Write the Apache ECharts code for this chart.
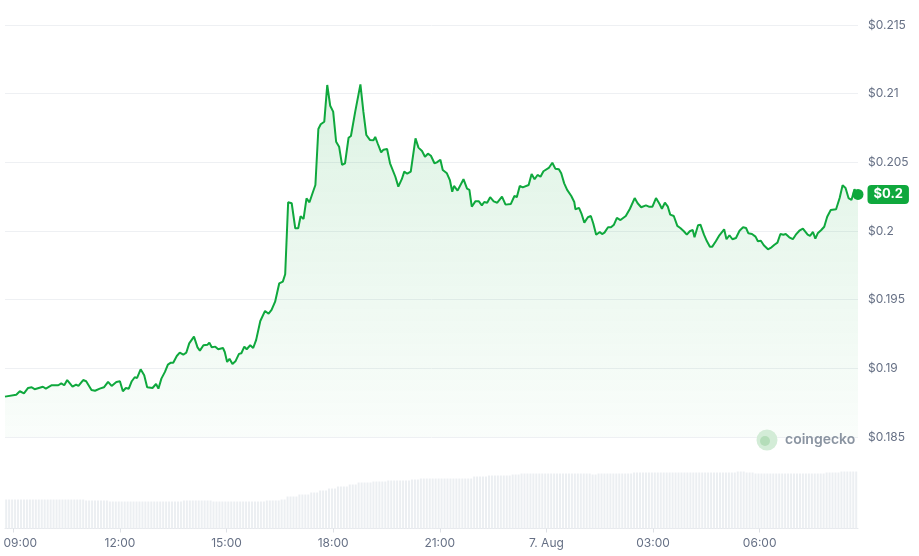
<!DOCTYPE html>
<html><head><meta charset="utf-8">
<script src="https://cdn.jsdelivr.net/npm/echarts@6/dist/echarts.min.js"></script>
<style>html,body{margin:0;padding:0;background:#fff}#c{width:919px;height:556px}</style>
</head><body><div id="c"></div>
<script>
// ---- data ----
const priceTimes = [
'08:46','09:05','09:11','09:18','09:25','09:31','09:36','09:50','09:55','10:05','10:16','10:21','10:26','10:31','10:40','10:46','10:50','10:58',
'11:03','11:12','11:18','11:26','11:33','11:40','11:46','11:54','12:00','12:05','12:10','12:15','12:20','12:25','12:29','12:35','12:41','12:46','12:55',
'13:01','13:05','13:10','13:16','13:21','13:26','13:30','13:36','13:41','13:47','13:52','13:57','14:05','14:11','14:15','14:21','14:28','14:31','14:35',
'14:41','14:46','14:54','14:57','15:01','15:05','15:10','15:15','15:21','15:25','15:30','15:34','15:40','15:45','15:50','15:57','16:05','16:11','16:16',
'16:22','16:29','16:35','16:39','16:44','16:50','16:56','17:01','17:05','17:10','17:15','17:20','17:26','17:30','17:35','17:39','17:45','17:50','17:55',
'18:00','18:05','18:10','18:15','18:20','18:26','18:30','18:37','18:46','18:51','18:56','19:02','19:08','19:11','19:15','19:21','19:25','19:31','19:36',
'19:45','19:50','19:56','20:00','20:05','20:11','20:19','20:24','20:30','20:35','20:40','20:45','20:51','20:55','21:01','21:05','21:12','21:17','21:21',
'21:24','21:30','21:40','21:46','21:50','21:54','22:00','22:06','22:11','22:15','22:20','22:25','22:31','22:37','22:45','22:51','23:00','23:06','23:10',
'23:15','23:20','23:30','23:35','23:40','23:45','23:50','23:55','00:04','00:10','00:15','00:21','00:25','00:30','00:35','00:42','00:47','00:49','00:55',
'00:59','01:04','01:10','01:15','01:19','01:24','01:30','01:34','01:38','01:44','01:49','01:54','01:59','02:05','02:14','02:21','02:29','02:34','02:40',
'02:48','02:53','02:59','03:05','03:11','03:15','03:20','03:25','03:29','03:35','03:41','03:46','03:52','03:57','04:02','04:07','04:10','04:16','04:20',
'04:26','04:31','04:36','04:40','04:46','04:52','05:00','05:04','05:09','05:14','05:20','05:26','05:32','05:37','05:41','05:47','05:53','05:57','06:02',
'06:07','06:14','06:20','06:25','06:30','06:35','06:40','06:44','06:50','06:56','07:01','07:07','07:13','07:16','07:21','07:25','07:30','07:34','07:38',
'07:44','07:49','07:54','08:00','08:09','08:15','08:20','08:25','08:30','08:35','08:40','08:46'
];
const prices = [
0.18794,0.18808,0.18833,0.18818,0.18857,0.18862,0.18848,0.18866,0.18852,0.18877,0.18877,0.18891,0.18877,0.18915,0.18866,0.18881,0.18872,0.18915,
0.18906,0.18842,0.18837,0.18852,0.18862,0.18901,0.18872,0.18901,0.18906,0.18833,0.18857,0.18852,0.18906,0.18935,0.18930,0.18993,0.18950,0.18862,0.18857,
0.18886,0.18852,0.18925,0.18974,0.19027,0.19041,0.19041,0.19090,0.19114,0.19099,0.19114,0.19182,0.19231,0.19153,0.19129,0.19168,0.19172,0.19187,0.19153,
0.19158,0.19139,0.19148,0.19119,0.19046,0.19070,0.19032,0.19051,0.19105,0.19110,0.19158,0.19139,0.19168,0.19148,0.19207,0.19345,0.19418,0.19398,0.19425,
0.19485,0.19619,0.19631,0.19685,0.20209,0.20202,0.20020,0.20020,0.20107,0.20088,0.20238,0.20209,0.20286,0.20335,0.20743,0.20777,0.20796,0.21063,0.20912,
0.20869,0.20650,0.20614,0.20481,0.20493,0.20679,0.20692,0.20864,0.21068,0.20869,0.20699,0.20663,0.20661,0.20685,0.20639,0.20573,0.20592,0.20597,0.20493,
0.20395,0.20323,0.20379,0.20432,0.20417,0.20432,0.20675,0.20607,0.20583,0.20541,0.20563,0.20548,0.20493,0.20500,0.20519,0.20444,0.20420,0.20371,0.20286,
0.20328,0.20294,0.20377,0.20308,0.20299,0.20177,0.20216,0.20216,0.20187,0.20211,0.20206,0.20246,0.20216,0.20206,0.20250,0.20192,0.20197,0.20255,0.20246,
0.20328,0.20318,0.20335,0.20415,0.20377,0.20408,0.20395,0.20435,0.20459,0.20497,0.20454,0.20449,0.20420,0.20347,0.20299,0.20255,0.20211,0.20158,0.20168,
0.20129,0.20061,0.20100,0.20109,0.20056,0.19973,0.19993,0.19978,0.19988,0.20027,0.20027,0.20046,0.20095,0.20080,0.20109,0.20162,0.20240,0.20202,0.20173,
0.20187,0.20177,0.20177,0.20240,0.20197,0.20162,0.20206,0.20177,0.20119,0.20109,0.20037,0.20022,0.19998,0.19973,0.19998,0.20007,0.19954,0.20042,0.20046,
0.19973,0.19925,0.19886,0.19886,0.19925,0.19969,0.20012,0.19940,0.19969,0.19940,0.19949,0.20002,0.20027,0.20022,0.19983,0.19978,0.19959,0.19925,0.19929,
0.19896,0.19867,0.19881,0.19900,0.19915,0.19978,0.19973,0.19978,0.19954,0.19940,0.19973,0.20002,0.20017,0.20007,0.19973,0.19964,0.19993,0.19944,0.19983,
0.20007,0.20031,0.20104,0.20153,0.20158,0.20240,0.20333,0.20313,0.20240,0.20226,0.20304,0.20266
];
// 5-minute volume bars, one row per hour (starting 08:48)
const volumeByHour = [
[29,29,29,29,29,29,29,29,29,29,29,29],
[29,29,29,29,29,29,29,29,29,29,29,29],
[29,29,29,28,28,28,28,28,28,28,28,27],
[27,27,27,27,27,27,27,27,27,27,27,27],
[27,27,27,27,27,27,27,27,27,27,27,27],
[28,28,28,28,28,28,28,28,28,28,27,27],
[27,27,27,27,27,27,27,27,27,27,27,27],
[27,27,27,27,28,28,28,28,28,29,29,32],
[32,32,32,34,34,34,34,36,36,36,38,38],
[38,40,40,40,42,42,42,42,44,44,44,46],
[46,46,46,46,47,47,47,47,47,48,48,48],
[48,48,48,48,48,49,49,49,50,50,50,50],
[50,50,50,50,50,50,50,50,50,50,50,50],
[50,50,52,52,52,52,52,53,53,53,53,53],
[53,53,53,54,54,54,55,55,55,55,55,55],
[55,55,55,55,55,55,55,55,55,55,55,55],
[55,55,55,55,55,55,54,54,55,55,55,55],
[55,55,55,55,55,55,55,55,56,56,56,56],
[56,56,56,56,56,56,56,56,56,56,56,56],
[56,56,56,56,56,56,56,56,56,56,56,56],
[56,56,56,56,56,56,56,57,57,57,56,56],
[56,55,55,55,55,55,55,55,55,55,55,55],
[55,55,55,55,55,55,55,55,55,55,55,55],
[55,56,56,56,56,56,57,57,57,57,57,57]
];
const tickTimes = ['2024-08-06 09:00','2024-08-06 12:00','2024-08-06 15:00','2024-08-06 18:00','2024-08-06 21:00','2024-08-07 00:00','2024-08-07 03:00','2024-08-07 06:00'];
const tickLabels = ['09:00','12:00','15:00','18:00','21:00','7. Aug','03:00','06:00'];
const rangeStart = '2024-08-06 08:46';
const rangeEnd = '2024-08-07 08:46';
const currentPriceLabel = '$0.2';

// ---- build ----
function parseT(s){ const [d,t]=s.split(' '); const [Y,M,D]=d.split('-').map(Number); const [h,m]=t.split(':').map(Number); return new Date(Y,M-1,D,h,m).getTime(); }
const startT = parseT(rangeStart), endT = parseT(rangeEnd);
let day = 6, prevH = -1;
const priceData = priceTimes.map((t,i)=>{ const h=+t.slice(0,2); if(h<prevH) day++; prevH=h; return [parseT('2024-08-0'+day+' '+t), prices[i]]; });
const vols = volumeByHour.flat();
const volData = vols.map((v,k)=>[startT + (2+5*k)*60000, v]);
const tickVals = tickTimes.map(parseT);
const GREEN = '#0fa83d';
const GREY = '#667085';

const chart = echarts.init(document.getElementById('c'));
chart.setOption({
  animation:false,
  textStyle:{fontFamily:'Inter'},
  grid:[{left:5,right:61,top:25,height:412},{left:5,right:61,top:445,height:83.5}],
  xAxis:[
    {type:'value',gridIndex:0,min:startT,max:endT,show:false,splitLine:{show:false}},
    {type:'value',gridIndex:1,min:startT,max:endT,
     axisLine:{show:true,lineStyle:{color:'#e6e8ec'}},
     axisTick:{show:true,length:4,lineStyle:{color:'#dde0e5'},customValues:tickVals},
     splitLine:{show:false},
     axisLabel:{customValues:tickVals,color:GREY,fontSize:12,fontFamily:'Inter',margin:9,
       formatter:function(v){ const i=tickVals.findIndex(t=>Math.abs(t-v)<60000); if(i<0) return ''; return i===0?'{f|'+tickLabels[i]+'}':tickLabels[i]; },
       rich:{f:{padding:[0,0,0,14],color:GREY,fontSize:12,fontFamily:'Inter'}}}
    }
  ],
  yAxis:[
    {type:'value',gridIndex:0,position:'right',min:0.185,max:0.215,interval:0.005,
     axisLine:{show:false},axisTick:{show:false},
     axisLabel:{formatter:v=>'$'+(+v.toFixed(3)),color:GREY,fontSize:12,fontFamily:'Inter',margin:10},
     splitLine:{lineStyle:{color:'#eef0f3'}}},
    {type:'value',gridIndex:1,min:0,max:Math.max(...vols)*1.465,show:false}
  ],
  series:[
    {type:'bar',xAxisIndex:1,yAxisIndex:1,data:volData,barWidth:2,itemStyle:{color:'#eceff2'},silent:true},
    {type:'line',xAxisIndex:0,yAxisIndex:0,data:priceData,showSymbol:false,symbol:'none',
     lineStyle:{color:GREEN,width:2},itemStyle:{color:GREEN},
     areaStyle:{origin:'start',color:new echarts.graphic.LinearGradient(0,0,0,1,[{offset:0,color:'rgba(15,168,61,0.20)'},{offset:1,color:'rgba(15,168,61,0.03)'}])}},
    {type:'scatter',xAxisIndex:0,yAxisIndex:0,data:[priceData[priceData.length-1]],symbolSize:11,clip:false,z:5,
     itemStyle:{color:GREEN,opacity:1},
     label:{show:true,position:'right',distance:4,formatter:currentPriceLabel,color:'#fff',fontWeight:'bold',fontSize:13,fontFamily:'Inter',
       backgroundColor:GREEN,borderRadius:4,padding:[3,6,3,6]}}
  ],
  graphic:[
    {type:'circle',shape:{cx:767,cy:440,r:10.5},style:{fill:'#d3ecd7'},z:10},
    {type:'circle',shape:{cx:765,cy:441,r:5},style:{fill:'#b4ddb9'},z:10},
    {type:'text',x:785,y:440,style:{text:'coingecko',fill:'#8a94a1',font:'600 14px Inter',verticalAlign:'middle'},z:10}
  ]
});
</script></body></html>
